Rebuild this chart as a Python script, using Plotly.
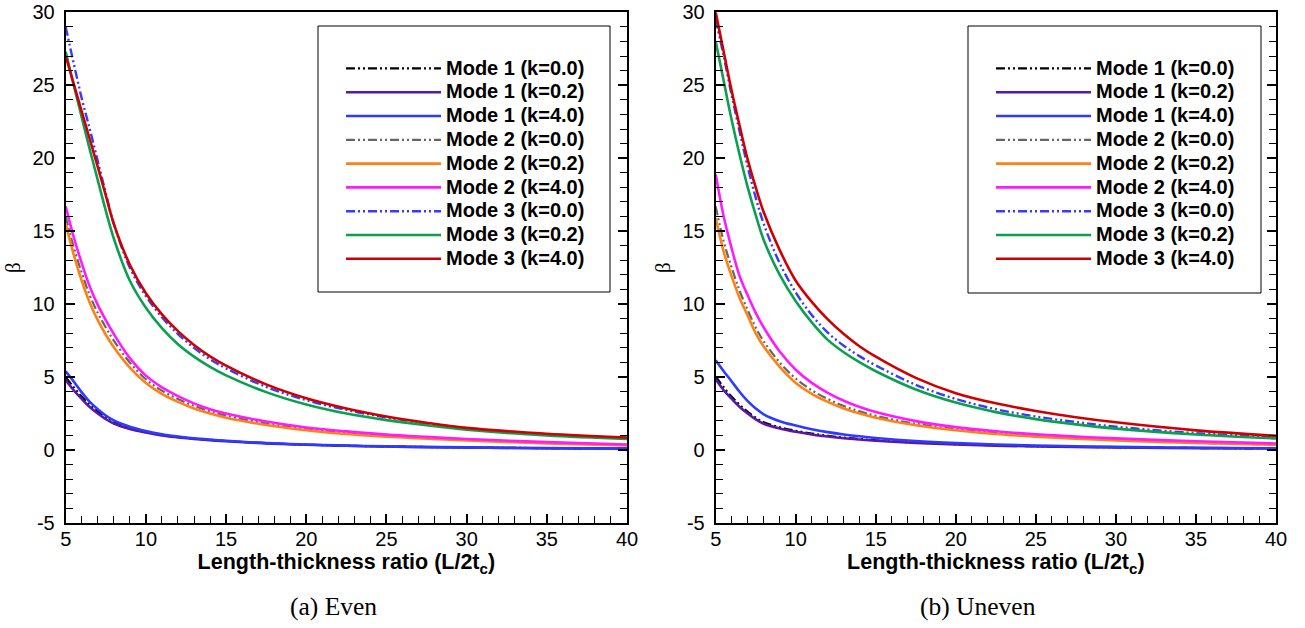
import plotly.graph_objects as go

# ---------------- data ----------------
L_RATIO = [5, 5.5, 6, 6.5, 7, 7.5, 8, 9, 10, 11, 12, 13, 14, 15, 17.5, 20, 22.5, 25, 27.5, 30, 35, 40]

SERIES_NAMES = ["Mode 1 (k=0.0)", "Mode 1 (k=0.2)", "Mode 1 (k=4.0)",
                "Mode 2 (k=0.0)", "Mode 2 (k=0.2)", "Mode 2 (k=4.0)",
                "Mode 3 (k=0.0)", "Mode 3 (k=0.2)", "Mode 3 (k=4.0)"]

# (a) Even
even_m1_k00 = [5.0, 4.3, 3.65, 3.1, 2.65, 2.25, 1.92, 1.52, 1.25, 1.04, 0.9, 0.78, 0.7, 0.62, 0.47, 0.37, 0.3, 0.25, 0.21, 0.18, 0.13, 0.1]
even_m1_k02 = [4.8, 4.1, 3.5, 2.95, 2.5, 2.12, 1.82, 1.45, 1.2, 1.0, 0.87, 0.76, 0.67, 0.6, 0.46, 0.36, 0.29, 0.24, 0.2, 0.17, 0.12, 0.09]
even_m1_k40 = [5.4, 4.7, 3.95, 3.3, 2.8, 2.37, 2.03, 1.6, 1.3, 1.08, 0.93, 0.81, 0.72, 0.64, 0.48, 0.38, 0.3, 0.25, 0.21, 0.18, 0.13, 0.1]
even_m2_k00 = [16.0, 13.9, 12.15, 10.6, 9.4, 8.4, 7.5, 6.0, 4.85, 4.07, 3.5, 3.03, 2.65, 2.36, 1.83, 1.45, 1.19, 0.99, 0.84, 0.7, 0.5, 0.35]
even_m2_k02 = [15.5, 13.4, 11.6, 10.1, 8.9, 7.9, 7.05, 5.65, 4.6, 3.85, 3.3, 2.85, 2.5, 2.22, 1.72, 1.36, 1.1, 0.92, 0.78, 0.65, 0.46, 0.32]
even_m2_k40 = [16.7, 14.6, 12.8, 11.2, 9.95, 8.9, 7.95, 6.3, 5.1, 4.3, 3.7, 3.2, 2.8, 2.5, 1.95, 1.55, 1.28, 1.06, 0.9, 0.76, 0.54, 0.38]
even_m3_k00 = [29.0, 26.5, 24.1, 22.0, 19.8, 17.6, 15.5, 12.5, 10.55, 9.1, 7.95, 7.0, 6.22, 5.6, 4.33, 3.42, 2.75, 2.24, 1.83, 1.5, 1.08, 0.82]
even_m3_k02 = [27.3, 25.0, 22.8, 20.6, 18.5, 16.4, 14.5, 11.6, 9.75, 8.35, 7.25, 6.4, 5.7, 5.12, 3.97, 3.12, 2.5, 2.05, 1.7, 1.4, 1.0, 0.76]
even_m3_k40 = [27.0, 25.1, 23.2, 21.3, 19.4, 17.45, 15.5, 12.7, 10.75, 9.3, 8.15, 7.2, 6.42, 5.78, 4.5, 3.55, 2.85, 2.3, 1.87, 1.52, 1.12, 0.86]

# (b) Uneven
uneven_m1_k00 = [5.05, 4.3, 3.65, 3.1, 2.62, 2.22, 1.9, 1.56, 1.32, 1.13, 0.98, 0.85, 0.75, 0.67, 0.51, 0.4, 0.32, 0.26, 0.22, 0.19, 0.14, 0.1]
uneven_m1_k02 = [4.85, 4.1, 3.5, 2.95, 2.5, 2.1, 1.8, 1.48, 1.25, 1.07, 0.93, 0.81, 0.72, 0.64, 0.49, 0.38, 0.3, 0.25, 0.21, 0.18, 0.13, 0.1]
uneven_m1_k40 = [6.15, 5.4, 4.7, 3.98, 3.35, 2.85, 2.45, 1.98, 1.68, 1.43, 1.23, 1.07, 0.94, 0.83, 0.62, 0.48, 0.38, 0.31, 0.26, 0.22, 0.16, 0.12]
uneven_m2_k00 = [16.7, 14.3, 12.5, 10.9, 9.6, 8.4, 7.45, 6.0, 4.9, 4.1, 3.5, 3.02, 2.65, 2.35, 1.8, 1.43, 1.16, 0.97, 0.82, 0.7, 0.5, 0.38]
uneven_m2_k02 = [15.9, 13.6, 11.9, 10.4, 9.2, 8.0, 7.1, 5.7, 4.6, 3.85, 3.3, 2.85, 2.5, 2.22, 1.7, 1.36, 1.1, 0.92, 0.78, 0.66, 0.48, 0.36]
uneven_m2_k40 = [18.9, 16.0, 13.8, 11.9, 10.6, 9.4, 8.4, 6.75, 5.5, 4.6, 3.92, 3.38, 2.95, 2.6, 1.98, 1.57, 1.29, 1.08, 0.92, 0.8, 0.6, 0.45]
uneven_m3_k00 = [29.5, 27.0, 24.3, 21.8, 19.4, 17.3, 15.5, 12.8, 10.8, 9.25, 8.05, 7.15, 6.42, 5.8, 4.47, 3.5, 2.8, 2.3, 1.92, 1.6, 1.16, 0.86]
uneven_m3_k02 = [28.0, 25.3, 22.6, 20.2, 18.0, 16.1, 14.4, 12.0, 10.2, 8.75, 7.55, 6.7, 6.0, 5.4, 4.15, 3.25, 2.6, 2.12, 1.76, 1.47, 1.07, 0.8]
uneven_m3_k40 = [30.0, 27.3, 24.6, 22.2, 19.9, 18.0, 16.3, 13.7, 11.6, 10.15, 8.95, 7.95, 7.1, 6.4, 4.95, 3.9, 3.2, 2.68, 2.25, 1.9, 1.35, 0.98]

EVEN = [even_m1_k00, even_m1_k02, even_m1_k40, even_m2_k00, even_m2_k02, even_m2_k40,
        even_m3_k00, even_m3_k02, even_m3_k40]
UNEVEN = [uneven_m1_k00, uneven_m1_k02, uneven_m1_k40, uneven_m2_k00, uneven_m2_k02, uneven_m2_k40,
          uneven_m3_k00, uneven_m3_k02, uneven_m3_k40]

X_TICKS = [5, 10, 15, 20, 25, 30, 35, 40]
X_TICK_TEXT = ["5", "10", "15", "20", "25", "30", "35", "40"]
Y_TICKS = [-5, 0, 5, 10, 15, 20, 25, 30]
Y_TICK_TEXT = ["-5", "0", "5", "10", "15", "20", "25", "30"]
X_TITLE = "Length-thickness ratio (L/2t<sub>c</sub>)"
Y_TITLE = "β"
CAPTIONS = ["(a) Even", "(b) Uneven"]

# ---------------- styles ----------------
DDOT = "9px,3px,2px,3px,2px,3px"
COLORS = ["#000000", "#5a17a8", "#2b3bff", "#666666", "#ff8014", "#ff1aff", "#3a3aff", "#0aa04f", "#d10000"]
DASHES = [DDOT, "solid", "solid", DDOT, "solid", "solid", DDOT, "solid", "solid"]
WIDTHS = [2.2, 2.6, 2.6, 2.2, 2.6, 2.6, 2.4, 2.6, 2.6]

W, H = 1305, 628
PX_L = (65.7, 627.0)
PX_R = (715.7, 1276.0)
PY = (12.3, 523.0)

def px_x(p):
    return p / W

def px_y(p):
    return 1 - p / H

fig = go.Figure()

for data, xa, ya, leg in [(EVEN, "x", "y", "legend"), (UNEVEN, "x2", "y2", "legend2")]:
    for name, vals, c, d, w in zip(SERIES_NAMES, data, COLORS, DASHES, WIDTHS):
        fig.add_trace(go.Scatter(
            x=L_RATIO, y=vals, mode="lines",
            name="<span style='font-size:20px'>" + name + "</span>",
            line=dict(color=c, dash=d, width=w, shape="spline", smoothing=1.0),
            xaxis=xa, yaxis=ya, legend=leg,
        ))

TICKFONT = dict(family="Liberation Sans, Arial", size=20, color="#000")

def xaxis_cfg(domain):
    return dict(
        domain=domain, range=[5, 40], tickvals=X_TICKS, ticktext=X_TICK_TEXT,
        showgrid=False, zeroline=False,
        showline=True, linecolor="#000", linewidth=2, mirror=True,
        ticks="inside", ticklen=9, tickwidth=2, tickcolor="#000",
        minor=dict(dtick=1, tick0=5, ticks="inside", ticklen=7, tickwidth=1, tickcolor="#000", showgrid=False),
        tickfont=TICKFONT, automargin=False, ticklabelstandoff=-3,
        title=dict(text=X_TITLE, font=dict(family="Liberation Sans, Arial", size=21.5, color="#000", weight="bold"), standoff=2),
    )

def yaxis_cfg(domain):
    return dict(
        domain=domain, range=[-5, 30], tickvals=Y_TICKS, ticktext=Y_TICK_TEXT,
        showgrid=False, zeroline=False,
        showline=True, linecolor="#000", linewidth=2, mirror="ticks",
        ticks="inside", ticklen=9, tickwidth=2, tickcolor="#000",
        minor=dict(dtick=1, tick0=0, ticks="inside", ticklen=7, tickwidth=1, tickcolor="#000", showgrid=False),
        tickfont=TICKFONT, automargin=False, ticklabelstandoff=5,
        title=dict(text=Y_TITLE, font=dict(family="Liberation Serif, Times New Roman", size=21, color="#000"), standoff=6),
    )

ydom = [px_y(PY[1]), px_y(PY[0])]
LEGFONT = dict(family="Liberation Sans, Arial", size=16, color="#000", weight="bold")

fig.update_layout(
    width=W, height=H, margin=dict(l=0, r=0, t=0, b=0),
    paper_bgcolor="white", plot_bgcolor="white",
    xaxis=xaxis_cfg([px_x(PX_L[0]), px_x(PX_L[1])]),
    yaxis=yaxis_cfg(ydom),
    xaxis2=dict(xaxis_cfg([px_x(PX_R[0]), px_x(PX_R[1])]), anchor="y2"),
    yaxis2=dict(yaxis_cfg(ydom), anchor="x2"),
    legend=dict(x=px_x(341), y=px_y(51.5), xanchor="left", yanchor="top", font=LEGFONT,
                bgcolor="rgba(0,0,0,0)", borderwidth=0, itemwidth=95, tracegroupgap=0),
    legend2=dict(x=px_x(991), y=px_y(51.5), xanchor="left", yanchor="top", font=LEGFONT,
                 bgcolor="rgba(0,0,0,0)", borderwidth=0, itemwidth=95, tracegroupgap=0),
    showlegend=True,
)

# legend frames
for x0, x1, y0, y1 in [(318, 610, 26, 292), (968, 1261, 26, 293)]:
    fig.add_shape(type="rect", xref="paper", yref="paper",
                  x0=px_x(x0), x1=px_x(x1), y0=px_y(y1), y1=px_y(y0),
                  line=dict(color="#000", width=1), fillcolor="rgba(0,0,0,0)", layer="above")

for cap, cx in zip(CAPTIONS, [333, 978]):
    fig.add_annotation(text=cap, xref="paper", yref="paper", x=px_x(cx), y=px_y(606),
                       showarrow=False, xanchor="center", yanchor="middle",
                       font=dict(family="Liberation Serif, Times New Roman", size=25.5, color="#000"))

fig.write_html("out.html", config={"displayModeBar": False},
               post_script="document.body.style.margin='0px';")
